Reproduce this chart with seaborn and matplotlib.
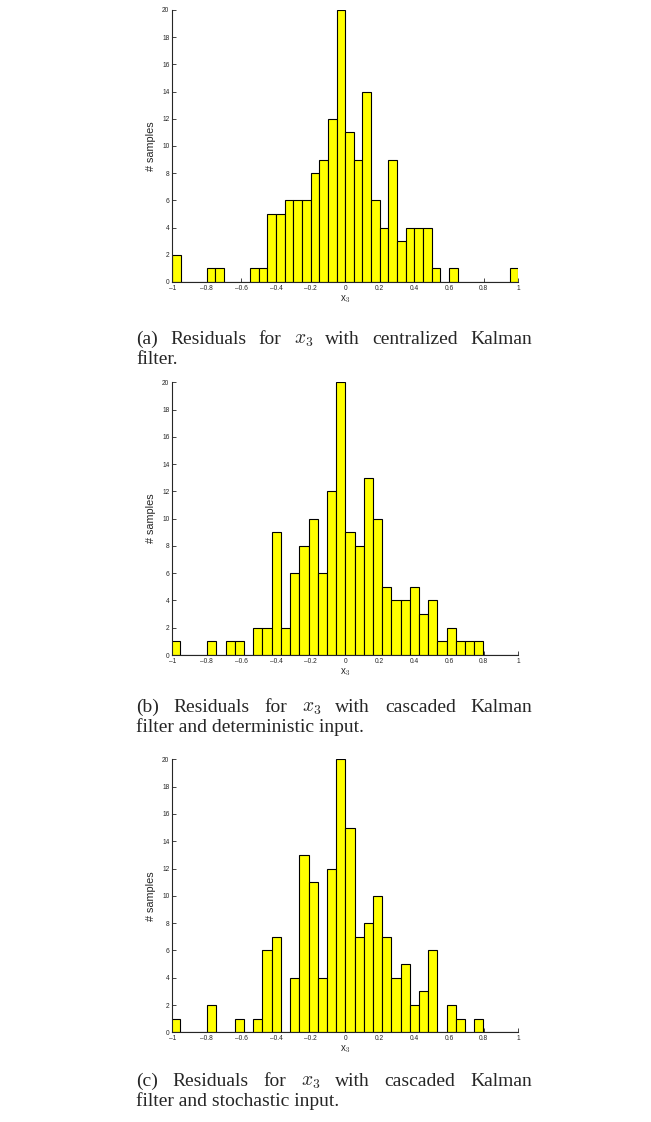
import numpy as np
import pandas as pd
import matplotlib
matplotlib.use("Agg")
import matplotlib.pyplot as plt
import seaborn as sns

# ---------- data: histogram counts ----------
# (a) centralized KF: 40 bins of width 0.05 over [-1, 1]
range_a = (-1.0, 1.0)
counts_a = [2, 0, 0, 0, 1, 1, 0, 0, 0, 1,
            1, 5, 5, 6, 6, 6, 8, 9, 12, 20,
            11, 9, 14, 6, 4, 9, 3, 4, 4, 4,
            1, 0, 1, 0, 0, 0, 0, 0, 0, 1]

# (b) cascaded KF, deterministic input: 40 bins over data range
range_b = (-1.01, 1.118)
counts_b = [1, 0, 0, 0, 1, 0, 1, 1, 0, 2,
            2, 9, 2, 6, 8, 10, 6, 12, 20, 9,
            8, 13, 10, 5, 4, 4, 5, 3, 4, 1,
            2, 1, 1, 1, 0, 0, 0, 0, 0, 0]

# (c) cascaded KF, stochastic input
range_c = (-1.01, 1.118)
counts_c = [1, 0, 0, 0, 2, 0, 0, 1, 0, 1,
            6, 7, 0, 4, 13, 11, 4, 12, 20, 15,
            7, 8, 10, 7, 4, 5, 2, 3, 6, 0,
            2, 1, 0, 1, 0, 0, 0, 0, 0, 0]

captions = [
    ("(a) Residuals for $x_3$ with centralized Kalman", "filter."),
    ("(b) Residuals for $x_3$ with cascaded Kalman", "filter and deterministic input."),
    ("(c) Residuals for $x_3$ with cascaded Kalman", "filter and stochastic input."),
]

xticks = [-1, -0.8, -0.6, -0.4, -0.2, 0, 0.2, 0.4, 0.6, 0.8, 1]
xticklabels = ["\u20131", "\u20130.8", "\u20130.6", "\u20130.4", "\u20130.2", "0",
               "0.2", "0.4", "0.6", "0.8", "1"]
yticks = list(range(0, 21, 2))

# ---------- style ----------
sns.set_style("ticks")
plt.rcParams["font.family"] = ["Liberation Sans", "DejaVu Sans"]
plt.rcParams["mathtext.fontset"] = "cm"

W, H = 651, 1122
fig = plt.figure(figsize=(W / 100, H / 100), dpi=100)

# axes boxes in figure fractions (left, bottom, width, height)
boxes = [(0.2645, 0.7487, 0.5315, 0.2424),
         (0.2645, 0.4162, 0.5315, 0.2431),
         (0.2645, 0.0799, 0.5315, 0.2433)]
# caption baselines in pixels from top
cap_base = [(344, 364), (712, 732), (1086, 1106)]
cap_left, cap_right = 136, 532
cap_size = 14

panels = [(range_a, counts_a), (range_b, counts_b), (range_c, counts_c)]
renderer = fig.canvas.get_renderer()

for (rng, counts), box, (cap1, cap2), (b1, b2) in zip(panels, boxes, captions, cap_base):
    ax = fig.add_axes(box)
    edges = np.linspace(rng[0], rng[1], len(counts) + 1)
    df = pd.DataFrame({"x3": (edges[:-1] + edges[1:]) / 2, "n": counts})
    sns.histplot(data=df, x="x3", weights="n", bins=list(edges), ax=ax,
                 color="#ffff00", edgecolor="black", linewidth=0.8,
                 alpha=1, stat="count")
    ax.set_xlim(-1, 1)
    ax.set_ylim(0, 20)
    ax.set_xticks(xticks)
    ax.set_xticklabels(xticklabels)
    ax.set_yticks(yticks)
    ax.tick_params(direction="in", length=3, width=0.6, labelsize=4.8, pad=2)
    for s in ["top", "right"]:
        ax.spines[s].set_visible(False)
    for s in ["left", "bottom"]:
        ax.spines[s].set_linewidth(0.8)
    ax.set_xlabel(r"x$_\mathsf{3}$", fontsize=7, labelpad=1)
    ax.set_ylabel("# samples", fontsize=7.8, labelpad=4)

    # first caption line is justified: spread the words over the column width
    words = cap1.split(" ")
    texts = [fig.text(0, 1 - b1 / H, w, fontsize=cap_size, family="Liberation Serif",
                      va="baseline") for w in words]
    widths = [t.get_window_extent(renderer).width for t in texts]
    gap = (cap_right - cap_left - sum(widths)) / (len(words) - 1)
    x = cap_left
    for t, w in zip(texts, widths):
        t.set_x(x / W)
        x += w + gap
    fig.text(cap_left / W, 1 - b2 / H, cap2, fontsize=cap_size,
             family="Liberation Serif", va="baseline")

fig.savefig("out.png", dpi=100)
